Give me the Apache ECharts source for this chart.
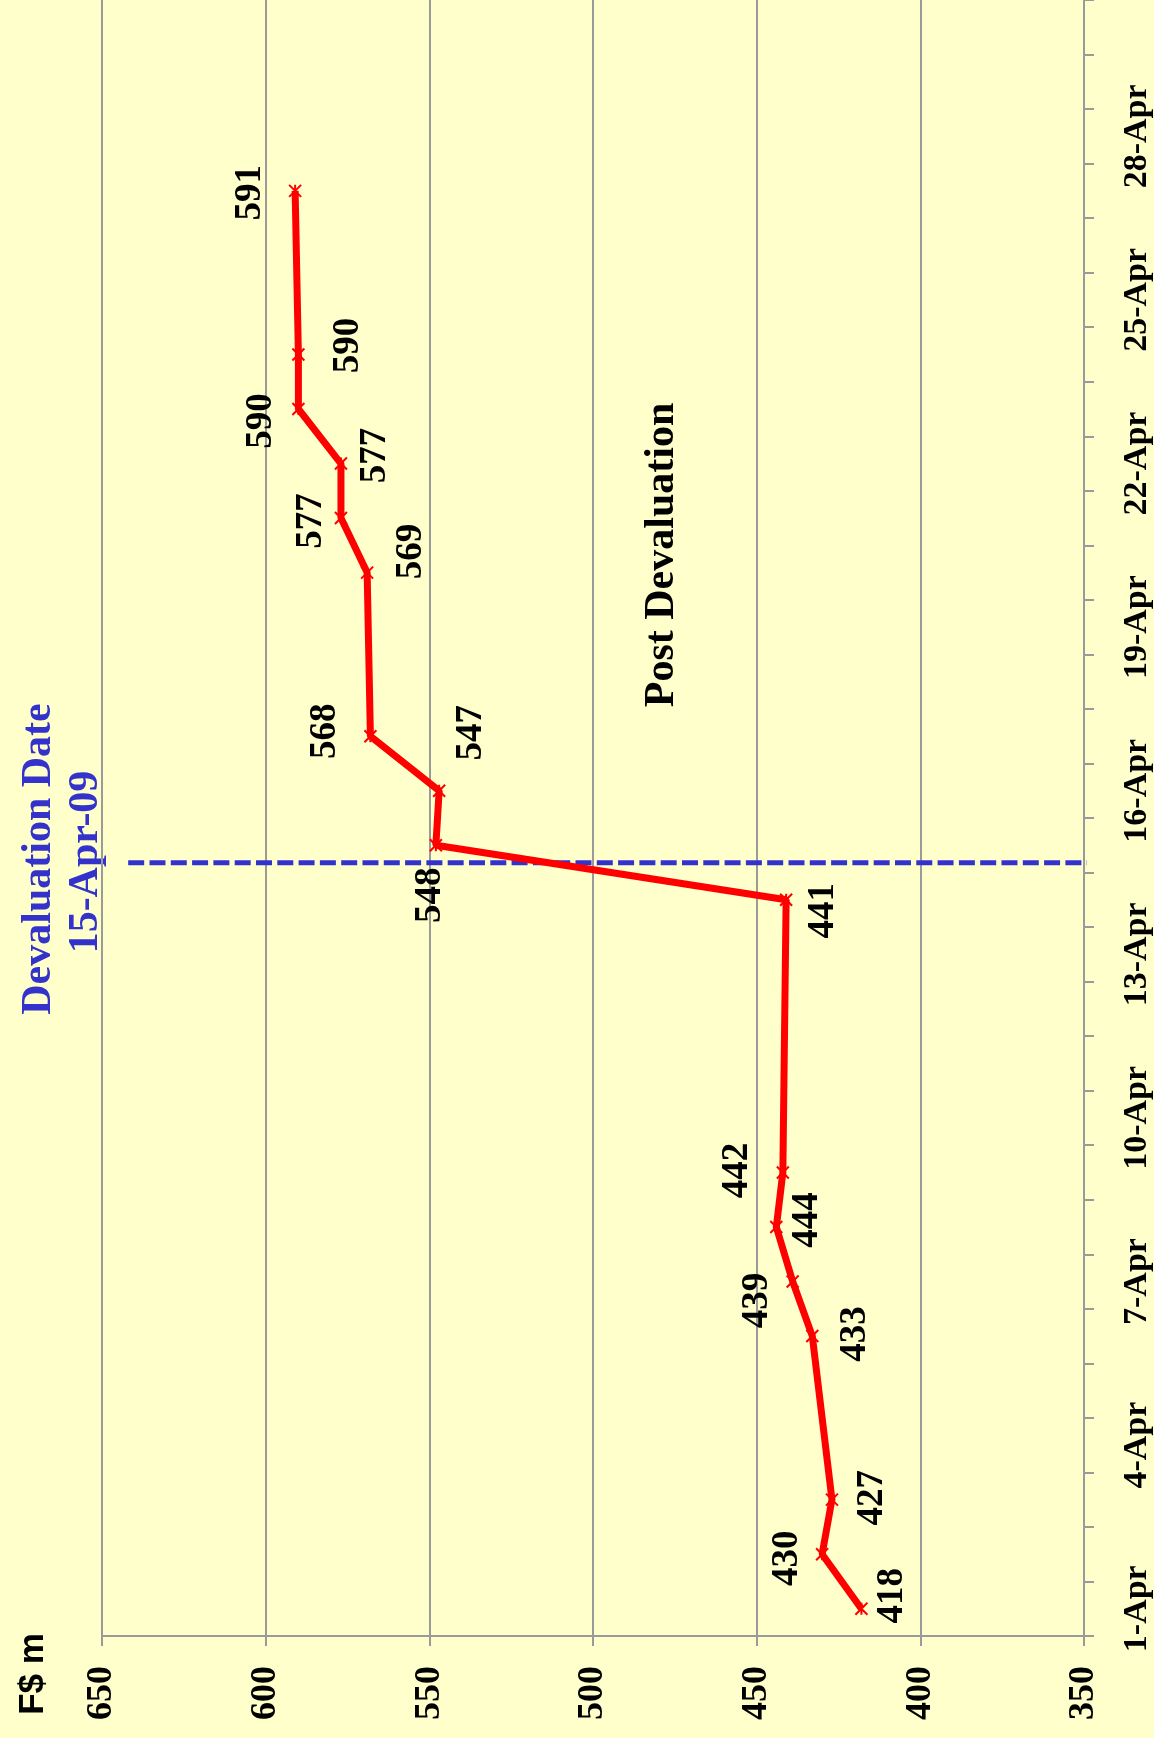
<!DOCTYPE html>
<html>
<head>
<meta charset="utf-8">
<script src="https://cdn.jsdelivr.net/npm/echarts@6/dist/echarts.min.js"></script>
<style>
html, body { margin: 0; padding: 0; background: #FFFFCC; }
#main { width: 1154px; height: 1738px; }
</style>
</head>
<body>
<div id="main"></div>
<script>
// dates (category axis, drawn vertically, 1-Apr at the bottom)
const days = ['1-Apr', '2-Apr', '3-Apr', '4-Apr', '5-Apr', '6-Apr', '7-Apr', '8-Apr', '9-Apr', '10-Apr',
    '11-Apr', '12-Apr', '13-Apr', '14-Apr', '15-Apr', '16-Apr', '17-Apr', '18-Apr', '19-Apr', '20-Apr',
    '21-Apr', '22-Apr', '23-Apr', '24-Apr', '25-Apr', '26-Apr', '27-Apr', '28-Apr', '29-Apr', '30-Apr'];
// F$ m, null = no reading that day
const reserves = [418, 430, 427, null, null, 433, 439, 444, 442, null,
    null, null, null, 441, 548, 547, 568, null, null, 569,
    577, 577, 590, 590, null, null, 591, null, null, null];
const valueMin = 350, valueMax = 650, valueStep = 50;
// devaluation marker, in day-slot units from the bottom of the axis (15-Apr-09)
const devaluationSlot = 14.18;

// where each data label sits relative to its point, screen px [right, down]
const labelShift = [
    [31, -13], [-35, 4], [40, -2], [43, -2], [-35, 19], [31, -7], [-45, -2], [37, 11],
    [-5, 50], [32, -58], [-45, -5], [44, -21], [-30, 3], [34, -8], [-37, 12], [50, -9], [-45, 2]
];

const serif = '"Liberation Serif", "Times New Roman", serif';
const gridColor = '#9a9a9a';

let points = [];
days.forEach(function (d, i) {
    if (reserves[i] === null) return;
    const s = labelShift[points.length];
    points.push({
        value: [reserves[i], d],
        // label is rotated 90deg, so its offset is rotated too
        label: {offset: [-s[1], s[0]]}
    });
});

const myChart = echarts.init(document.getElementById('main'));
myChart.setOption({
    backgroundColor: '#FFFFCC',
    animation: false,
    grid: {left: 102, right: 66, top: 0, bottom: 102, containLabel: false},
    xAxis: [{
        type: 'value',
        min: valueMin,
        max: valueMax,
        interval: valueStep,
        inverse: true,
        position: 'bottom',
        axisLine: {show: true, onZero: false, lineStyle: {color: gridColor, width: 2}},
        axisTick: {show: true, length: 10, lineStyle: {color: gridColor, width: 2}},
        splitLine: {show: true, lineStyle: {color: gridColor, width: 2}},
        axisLabel: {
            rotate: 90, margin: 30, fontSize: 36, fontWeight: 'bold',
            fontFamily: serif, color: '#000'
        }
    }],
    yAxis: [{
        type: 'category',
        data: days,
        position: 'right',
        boundaryGap: true,
        axisLine: {show: true, onZero: false, lineStyle: {color: gridColor, width: 2}},
        axisTick: {show: true, interval: 0, length: 10, lineStyle: {color: gridColor, width: 2}},
        splitLine: {show: false},
        axisLabel: {
            interval: 2, rotate: 90, margin: 36, fontSize: 34, fontWeight: 'bold',
            fontFamily: serif, color: '#000'
        }
    }, {
        type: 'value',
        min: 0,
        max: days.length,
        show: false
    }],
    graphic: [
        {type: 'text', x: 39, y: 859, rotation: Math.PI / 2, style: {
            text: 'Devaluation Date', fill: '#3333CC', font: 'bold 42px ' + serif,
            align: 'center', verticalAlign: 'middle', textAlign: 'center', textVerticalAlign: 'middle'}},
        {type: 'text', x: 86, y: 862, rotation: Math.PI / 2, style: {
            text: '15-Apr-09', fill: '#3333CC', font: 'bold 42px ' + serif,
            align: 'center', verticalAlign: 'middle', textAlign: 'center', textVerticalAlign: 'middle'}},
        {type: 'text', x: 662, y: 555, rotation: Math.PI / 2, style: {
            text: 'Post Devaluation', fill: '#000', font: 'bold 42px ' + serif,
            align: 'center', verticalAlign: 'middle', textAlign: 'center', textVerticalAlign: 'middle'}},
        {type: 'text', x: 33, y: 1674, rotation: Math.PI / 2, style: {
            text: 'F$ m', fill: '#000', font: 'bold 35px "Liberation Sans", Arial, sans-serif',
            align: 'center', verticalAlign: 'middle', textAlign: 'center', textVerticalAlign: 'middle'}}
    ],
    series: [{
        // devaluation date marker
        type: 'line',
        xAxisIndex: 0,
        yAxisIndex: 1,
        data: [[642, devaluationSlot], [345, devaluationSlot]],
        symbol: 'none',
        clip: false,
        silent: true,
        z: 2,
        lineStyle: {color: '#3333CC', width: 5, type: [16, 5.3]}
    }, {
        type: 'line',
        xAxisIndex: 0,
        yAxisIndex: 0,
        data: points,
        z: 3,
        symbol: 'path://M0,0L10,10M10,0L0,10M5,0L5,10',
        symbolSize: 12,
        itemStyle: {color: '#FF0000', borderColor: '#FF0000', borderWidth: 2},
        lineStyle: {color: '#FF0000', width: 7},
        label: {
            show: true,
            position: 'inside',
            rotate: 90,
            align: 'center',
            verticalAlign: 'middle',
            fontSize: 37,
            fontWeight: 'bold',
            fontFamily: serif,
            color: '#000',
            formatter: function (p) { return p.value[0]; }
        }
    }]
});
</script>
</body>
</html>
